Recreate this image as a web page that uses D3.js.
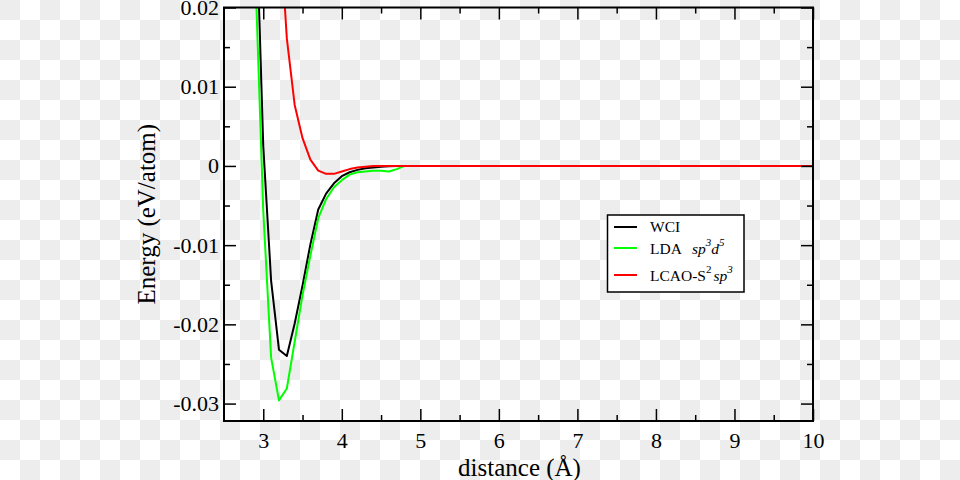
<!DOCTYPE html>
<html><head><meta charset="utf-8">
<script src="https://cdn.jsdelivr.net/npm/d3@7"></script>
<style>body{margin:0;background:#fff}svg{display:block}</style>
</head><body>
<svg id="chart" width="960" height="480"></svg>
<script>
// ---- data ----
const distance = [2.9,3.0,3.1,3.2,3.3,3.4,3.5,3.6,3.7,3.8,3.9,4.0,4.1,4.2,4.3,4.4,4.5,4.6,4.7,4.8,5,6,7,8,9,10];
const wci  = [0.035,0.0025,-0.0145,-0.0232,-0.0240,-0.0199,-0.0151,-0.0099,-0.0055,-0.0035,-0.0022,-0.0013,-0.0008,-0.0005,-0.0003,-0.0002,-0.0001,-0.00005,0,0,0,0,0,0,0,0];
const lda  = [0.024,-0.0057,-0.0242,-0.0296,-0.0281,-0.0222,-0.0163,-0.0113,-0.0066,-0.0042,-0.0027,-0.0018,-0.0011,-0.0008,-0.0007,-0.0006,-0.0006,-0.0007,-0.0004,0,0,0,0,0,0,0];
const lcao = [null,null,0.058,0.032,0.0161,0.0077,0.0035,0.0008,-0.0006,-0.0010,-0.0010,-0.0007,-0.0004,-0.0002,-0.0001,0,0,0,0,0,0,0,0,0,0,0];
const seriesNames = ["WCI","LDA","LCAO"];
const seriesColors = ["#000000","#00ff00","#ff0000"];
const xTicks = [3,4,5,6,7,8,9,10];
const xMinorTicks = [3.5,4.5,5.5,6.5,7.5,8.5,9.5];
const yTicks = [-0.03,-0.02,-0.01,0,0.01,0.02];
const yMinorTicks = [-0.025,-0.015,-0.005,0.005,0.015];
const xTitle = "distance (Å)";
const yTitle = "Energy (eV/atom)";

// ---- layout ----
const W = 960, H = 480;
const L = 224, R = 813, T = 7.5, B = 421;
const svg = d3.select("#chart");
const font = "'Liberation Serif','Times New Roman',serif";

// checkerboard background (transparent image look)
const cells = [];
for (let i = 0; i < W/20; i++) for (let j = 0; j < H/20; j++) if ((i + j) % 2 === 0) cells.push([i, j]);
svg.append("g").selectAll("rect").data(cells).join("rect")
  .attr("x", d => d[0]*20).attr("y", d => d[1]*20)
  .attr("width", 20).attr("height", 20).attr("fill", "#ededed");

const x = d3.scaleLinear().domain([2.5, 10]).range([L, R]);
const y = d3.scaleLinear().domain([-0.0322, 0.02]).range([B, T]);

svg.append("clipPath").attr("id", "clip").append("rect")
  .attr("x", L).attr("y", T).attr("width", R - L).attr("height", B - T);

// curves
const allSeries = [wci, lda, lcao];
const line = d3.line()
  .defined(d => d[1] != null)
  .x(d => x(d[0])).y(d => y(d[1]));
const gCurves = svg.append("g").attr("clip-path", "url(#clip)");
allSeries.forEach((vals, k) => {
  gCurves.append("path")
    .datum(distance.map((d, i) => [d, vals[i]]))
    .attr("d", line)
    .attr("fill", "none")
    .attr("stroke", seriesColors[k])
    .attr("stroke-width", 2)
    .attr("stroke-linejoin", "round");
});

// axes
const fmt = d => d === 0 ? "0" : d.toFixed(2);
function styleAxis(g) {
  g.select(".domain").remove();
  g.selectAll(".tick line").attr("stroke", "#000").attr("stroke-width", 1.5);
}
svg.append("g").attr("transform", `translate(0,${B})`)
  .call(d3.axisBottom(x).tickValues(xTicks).tickSize(-12).tickPadding(0).tickFormat(d3.format("d")))
  .call(styleAxis)
  .call(g => g.selectAll("text").attr("y", 27).attr("dy", null)
    .attr("font-family", font).attr("font-size", 22).attr("fill", "#000"));
svg.append("g").attr("transform", `translate(0,${B})`)
  .call(d3.axisBottom(x).tickValues(xMinorTicks).tickSize(-6).tickFormat(""))
  .call(styleAxis);
svg.append("g").attr("transform", `translate(0,${T})`)
  .call(d3.axisTop(x).tickValues(xTicks).tickSize(-12).tickFormat(""))
  .call(styleAxis);
svg.append("g").attr("transform", `translate(0,${T})`)
  .call(d3.axisTop(x).tickValues(xMinorTicks).tickSize(-6).tickFormat(""))
  .call(styleAxis);
svg.append("g").attr("transform", `translate(${L},0)`)
  .call(d3.axisLeft(y).tickValues(yTicks).tickSize(-12).tickPadding(5).tickFormat(fmt))
  .call(styleAxis)
  .call(g => g.selectAll("text").attr("dy", "0.32em")
    .attr("font-family", font).attr("font-size", 22).attr("fill", "#000"));
svg.append("g").attr("transform", `translate(${L},0)`)
  .call(d3.axisLeft(y).tickValues(yMinorTicks).tickSize(-6).tickFormat(""))
  .call(styleAxis);
svg.append("g").attr("transform", `translate(${R},0)`)
  .call(d3.axisRight(y).tickValues(yTicks).tickSize(-12).tickFormat(""))
  .call(styleAxis);
svg.append("g").attr("transform", `translate(${R},0)`)
  .call(d3.axisRight(y).tickValues(yMinorTicks).tickSize(-6).tickFormat(""))
  .call(styleAxis);

// frame
svg.append("rect").attr("x", L).attr("y", T).attr("width", R - L).attr("height", B - T)
  .attr("fill", "none").attr("stroke", "#000").attr("stroke-width", 2);

// titles
svg.append("text").attr("x", (L + R) / 2 + 1).attr("y", 476)
  .attr("text-anchor", "middle").attr("font-family", font).attr("font-size", 25)
  .attr("fill", "#000").text(xTitle);
svg.append("text").attr("transform", `translate(155,${(T + B) / 2}) rotate(-90)`)
  .attr("text-anchor", "middle").attr("font-family", font).attr("font-size", 25)
  .attr("fill", "#000").text(yTitle);

// legend
const lg = svg.append("g");
lg.append("rect").attr("x", 607.5).attr("y", 215).attr("width", 136.5).attr("height", 77)
  .attr("fill", "#fff").attr("stroke", "#000").attr("stroke-width", 1.5);
const legendLineY = [227, 248, 275];
const legendTextY = [232, 254, 281];
seriesNames.forEach((n, k) => {
  lg.append("line").attr("x1", 614).attr("x2", 637)
    .attr("y1", legendLineY[k]).attr("y2", legendLineY[k])
    .attr("stroke", seriesColors[k]).attr("stroke-width", 2);
});
const t0 = lg.append("text").attr("x", 650).attr("y", legendTextY[0])
  .attr("font-family", font).attr("font-size", 15.5).attr("fill", "#000").text("WCI");
const t1 = lg.append("text").attr("x", 650).attr("y", legendTextY[1])
  .attr("font-family", font).attr("font-size", 15.5).attr("fill", "#000");
t1.append("tspan").text("LDA");
t1.append("tspan").attr("x", 692).attr("font-style", "italic").text("sp");
t1.append("tspan").attr("font-size", 11).attr("dy", -8).attr("font-style", "italic").text("3");
t1.append("tspan").attr("dy", 8).attr("dx", 0).attr("font-style", "italic").text("d");
t1.append("tspan").attr("font-size", 11).attr("dy", -8).attr("font-style", "italic").text("5");
const t2 = lg.append("text").attr("x", 650).attr("y", legendTextY[2])
  .attr("font-family", font).attr("font-size", 15.5).attr("fill", "#000");
t2.append("tspan").text("LCAO-S");
t2.append("tspan").attr("font-size", 11).attr("dy", -8).text("2");
t2.append("tspan").attr("dy", 8).attr("dx", 2).attr("font-style", "italic").text("sp");
t2.append("tspan").attr("font-size", 11).attr("dy", -8).attr("font-style", "italic").text("3");
</script>
</body></html>
